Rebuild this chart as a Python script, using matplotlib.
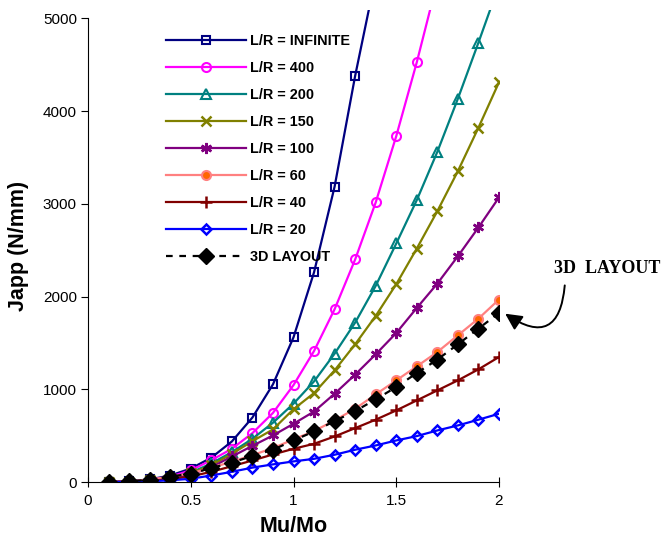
import numpy as np
import matplotlib
matplotlib.use("Agg")
import matplotlib.pyplot as plt

plt.rcParams['font.family'] = ['Liberation Sans', 'DejaVu Sans']

# Mu/Mo values
x = np.round(np.arange(1, 21) * 0.1, 1)

# Japp (N/mm) for each L/R
j_inf = [2, 8, 28, 70, 145, 262, 437, 695, 1053, 1560, 2262, 3185, 4380, 5450]
j_400 = [1, 7, 24, 58, 125, 235, 358, 527, 745, 1045, 1413, 1863, 2400, 3015, 3730, 4527, 5400]
j_200 = [1, 6, 20, 50, 100, 200, 322, 466, 639, 845, 1085, 1384, 1719, 2115, 2572, 3040, 3561, 4134, 4739, 5360]
j_150 = [1, 5, 18, 45, 92, 180, 304, 440, 567, 785, 959, 1204, 1485, 1791, 2133, 2518, 2921, 3353, 3821, 4311]
j_100 = [1, 5, 16, 40, 80, 160, 275, 390, 502, 628, 760, 952, 1158, 1377, 1607, 1877, 2140, 2435, 2745, 3069]
j_60 = [1, 7, 25, 58, 92, 155, 218, 290, 365, 460, 549, 664, 790, 945, 1096, 1247, 1402, 1582, 1762, 1968]
j_40 = [1, 4, 12, 30, 60, 110, 170, 232, 297, 358, 412, 491, 581, 672, 772, 880, 988, 1096, 1215, 1348]
j_20 = [0, 2, 8, 18, 35, 70, 110, 155, 190, 222, 250, 294, 348, 394, 448, 495, 556, 610, 672, 736]
j_3d = [0, 7, 25, 58, 90, 150, 210, 280, 348, 448, 545, 657, 765, 891, 1024, 1175, 1320, 1485, 1654, 1823]

labels = ["L/R = INFINITE", "L/R = 400", "L/R = 200", "L/R = 150", "L/R = 100",
          "L/R = 60", "L/R = 40", "L/R = 20", "3D LAYOUT"]

fig = plt.figure(figsize=(6.61, 5.36), dpi=100)
ax = fig.add_axes([88/661, 54/536, 411/661, 472/536])

lw = 1.6
ax.plot(x[:len(j_inf)], j_inf, color='#000080', lw=lw, marker='s', ms=6, mfc='none', mew=1.5, label=labels[0])
ax.plot(x[:len(j_400)], j_400, color='#FF00FF', lw=lw, marker='o', ms=6.5, mfc='none', mew=1.5, label=labels[1])
ax.plot(x, j_200, color='#008080', lw=lw, marker='^', ms=7, mfc='none', mew=1.5, label=labels[2])
ax.plot(x, j_150, color='#808000', lw=lw, marker='x', ms=7.5, mew=1.8, label=labels[3])
ax.plot(x, j_100, color='#800080', lw=lw, marker=(6, 2, 0), ms=8, mew=1.8, label=labels[4])
ax.plot(x, j_60, color='#FF8080', lw=lw, marker='o', ms=6.5, mfc='#FF6600', mec='#FF8080', mew=1.5, label=labels[5])
ax.plot(x, j_40, color='#800000', lw=lw, marker='+', ms=9, mew=1.8, label=labels[6])
ax.plot(x, j_20, color='#0000FF', lw=lw, marker='D', ms=5, mfc='none', mew=1.8, label=labels[7])
ax.plot(x, j_3d, color='black', lw=1.6, ls=(0, (3, 3)), marker='D', ms=8, mfc='black', mec='black', label=labels[8])

ax.set_xlim(0, 2)
ax.set_ylim(0, 5090)
ax.spines['top'].set_visible(False)
ax.spines['right'].set_visible(False)
ax.spines['left'].set_bounds(0, 5000)
ax.set_xticks([0, 0.5, 1, 1.5, 2])
ax.set_xticklabels(['0', '0.5', '1', '1.5', '2'])
ax.set_yticks(np.arange(0, 5001, 1000))
ax.tick_params(axis='x', direction='inout', length=7, labelsize=11, pad=5)
ax.tick_params(axis='y', direction='out', length=5, labelsize=11, pad=3)
ax.set_xlabel("Mu/Mo", fontsize=15.5, fontweight='bold', labelpad=6)
ax.set_ylabel("Japp (N/mm)", fontsize=15.5, fontweight='bold', labelpad=10)

leg = ax.legend(loc='upper left', bbox_to_anchor=(0.19, 0.95), frameon=False,
                handlelength=5.5, handletextpad=0.3, labelspacing=0.9,
                borderaxespad=0, borderpad=0, prop={'weight': 'bold', 'size': 10.4})

ax.annotate("", xy=(2.03, 1815), xytext=(2.32, 2120), annotation_clip=False,
            arrowprops=dict(arrowstyle='-|>,head_length=1.0,head_width=0.5', color='black',
                            lw=1.4, connectionstyle='arc3,rad=-0.85', shrinkA=0, shrinkB=0))
ax.text(2.525, 2305, "3D  LAYOUT", fontsize=13, fontweight='bold', family='Liberation Serif',
        ha='center', va='center', clip_on=False)

fig.savefig("out.png", dpi=100)
